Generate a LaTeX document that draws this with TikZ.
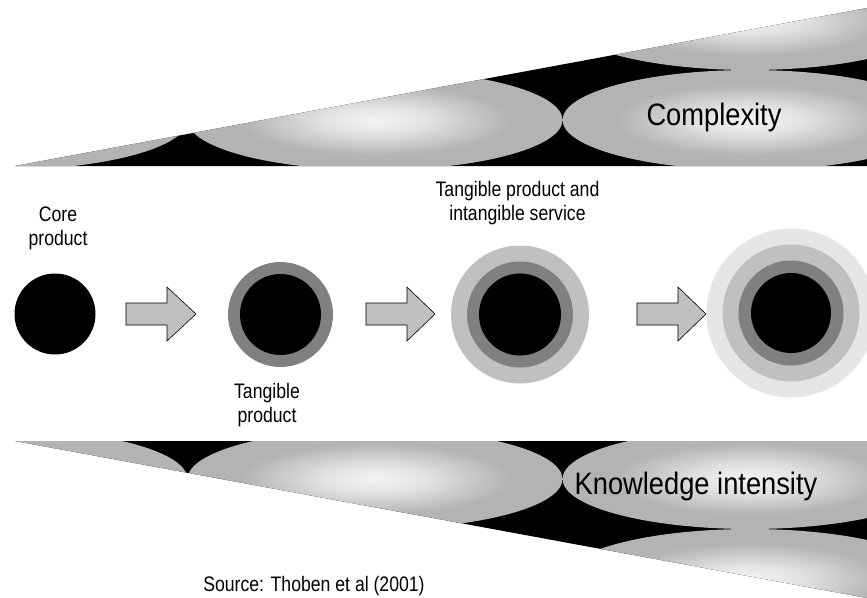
\documentclass[tikz,border=0pt]{standalone}
\usepackage{fontspec}
\setmainfont{Liberation Sans}
\newfontfamily\smallfam[FakeStretch=0.84]{Liberation Sans}
\newfontfamily\bigfam[FakeStretch=0.88]{Liberation Sans}
\definecolor{ringA}{HTML}{808080}
\definecolor{ringB}{HTML}{C0C0C0}
\definecolor{ringC}{HTML}{E6E6E6}
\definecolor{shEdge}{HTML}{B3B3B3}
\definecolor{shMid}{HTML}{F4F4F4}
\definecolor{shQ}{HTML}{E2E2E2}
\pgfdeclareradialshading{ellshade}{\pgfpoint{0bp}{0bp}}{color(0bp)=(shMid); color(7bp)=(shQ); color(18bp)=(shEdge); color(50bp)=(shEdge)}
\begin{document}
\begin{tikzpicture}[x=1pt,y=-1pt,
  disc/.style={circle,inner sep=0pt,draw=none},
  blockarrow/.style={fill=ringB,draw=black,line width=0.6pt,line join=miter},
  lbl/.style={font=\smallfam\fontsize{21}{24}\selectfont,align=center,inner sep=0pt},
  biglbl/.style={font=\bigfam\fontsize{31}{36}\selectfont,inner sep=0pt},
  ell/.style={shading=ellshade}]
\useasboundingbox (0,0) rectangle (867,597);
% top wedge
\begin{scope}
  \clip (15,166) -- (867,166) -- (867,8) -- cycle;
  \fill[black] (0,0) rectangle (867,170);
  \foreach \cx/\cy in {0/120,375/120,750/120,375/20,750/20}
    \shade[ell] (\cx,\cy) ellipse [x radius=187.5pt, y radius=50pt];
\end{scope}
% bottom wedge
\begin{scope}
  \clip (15,441) -- (867,441) -- (867,598) -- cycle;
  \fill[black] (0,437) rectangle (867,600);
  \foreach \cx/\cy in {0/479,375/479,750/479,375/579,750/579}
    \shade[ell] (\cx,\cy) ellipse [x radius=187.5pt, y radius=50pt];
\end{scope}
\node[biglbl,anchor=base] (cplx) at (714,125) {Complexity};
\node[biglbl,anchor=base] (know) at (696,494) {Knowledge intensity};
% circles
\node[disc,fill=black,minimum size=81pt] (c1) at (55,314) {};
\node[disc,fill=ringA,minimum size=105pt] (c2) at (280.5,314.5) {};
\node[disc,fill=black,minimum size=81pt] (c2i) at (280.5,314.5) {};
\node[disc,fill=ringB,minimum size=138pt] (c3) at (520,314.5) {};
\node[disc,fill=ringA,minimum size=106pt] (c3m) at (520,314.5) {};
\node[disc,fill=black,minimum size=82pt] (c3i) at (520,314.5) {};
\node[disc,fill=ringC,minimum size=169pt] (c4) at (791,313) {};
\node[disc,fill=ringB,minimum size=137pt] (c4a) at (791,313) {};
\node[disc,fill=ringA,minimum size=105pt] (c4m) at (791,313) {};
\node[disc,fill=black,minimum size=80pt] (c4i) at (791,313) {};
% block arrows
\foreach \xa/\xh/\xt in {126/167/196,366/407/435,637/678/706}
  \draw[blockarrow] (\xa,303) -- (\xh,303) -- (\xh,287) -- (\xt,314) -- (\xh,341) -- (\xh,325) -- (\xa,325) -- cycle;
% labels (base anchor = baseline of the last line)
\node[lbl,anchor=base] (lcore) at (58,245) {Core\\product};
\node[lbl,anchor=base] (ltang) at (267,422) {Tangible\\product};
\node[lbl,anchor=base] (lserv) at (517.5,220) {Tangible product and\\intangible service};
\node[lbl,anchor=base] (lsrc) at (314,591) {Source: Thoben et al (2001)};
\end{tikzpicture}
\end{document}
